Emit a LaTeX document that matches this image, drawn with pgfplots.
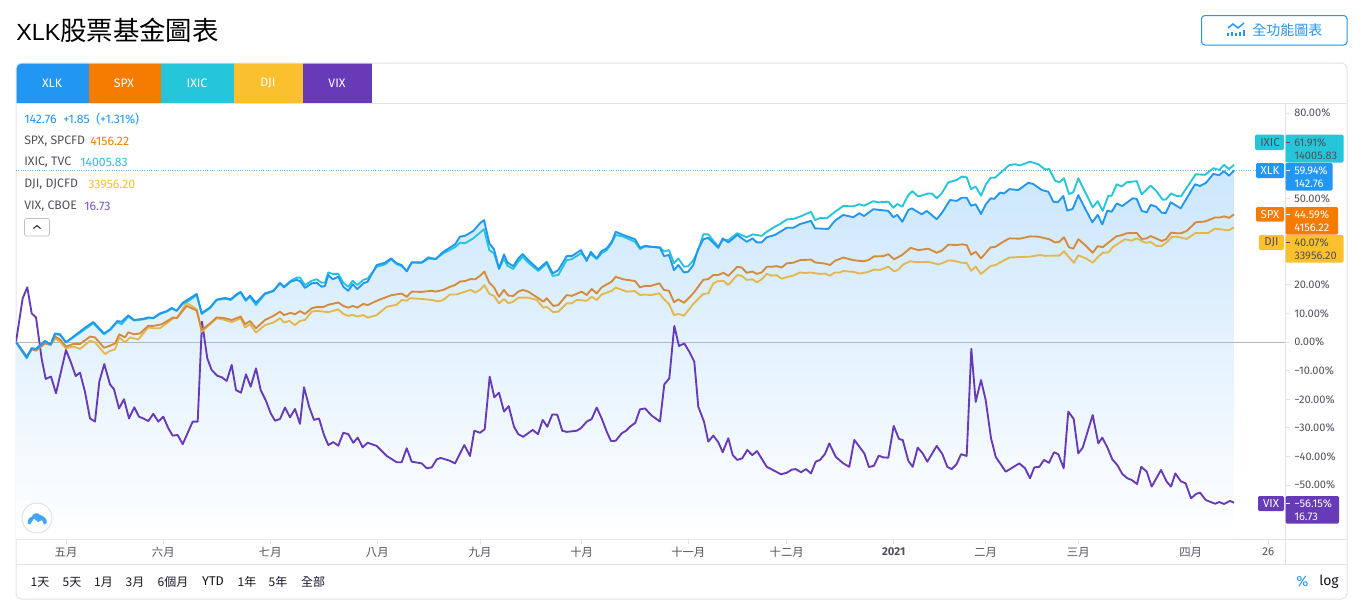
\documentclass[border=0pt]{standalone}
\usepackage{fontspec}
\usepackage{pgfplots}
\usepackage{pgfplotstable}
\pgfplotsset{compat=1.18}
\setmainfont{Fira Sans}
\newfontfamily\lib{Liberation Sans}
\newfontfamily\cjk{Noto Sans CJK TC}

\definecolor{cardline}{HTML}{E0E3EB}
\definecolor{txt}{HTML}{50535E}
\definecolor{dark}{HTML}{131722}
\definecolor{cXLK}{HTML}{2196F3}
\definecolor{cSPX}{HTML}{F57C00}
\definecolor{cIXIC}{HTML}{26C6DA}
\definecolor{cDJI}{HTML}{FBC02D}
\definecolor{cVIX}{HTML}{673AB7}
\definecolor{lSPX}{HTML}{D68A3C}
\definecolor{lDJI}{HTML}{E2B84E}
\definecolor{zero}{HTML}{B2B5C8}

% x = position along the time scale, y = change in percent
\pgfplotstableread[row sep=crcr]{
x y\\
16 0\\ 26.7 -5.3\\ 31.7 -2.2\\ 36 -2.4\\ 45 0.3\\ 50.7 -0.8\\ 55 3.0\\ 60 2.7\\ 66 -0.1\\ 78.3 3.2\\
85 5.0\\ 93.3 7.0\\ 104 3.0\\ 110 4.4\\ 117.3 7.3\\ 121.7 7.1\\ 128.3 9.3\\ 134 7.7\\ 143.3 8.1\\ 148.3 8.6\\
153.3 8.4\\ 160 10.0\\ 166.7 10.8\\ 171.7 11.9\\ 176.7 10.9\\ 182.7 13.7\\ 190 15.3\\ 196.7 16.8\\ 201.7 10.1\\ 210 12.1\\
216.7 14.8\\ 225 15.4\\ 230.7 14.9\\ 236.7 16.7\\ 240.7 17.5\\ 245.7 14.7\\ 250 16.2\\ 256 13.7\\ 265 17.0\\ 273.3 17.9\\
280 20.5\\ 284 19.1\\ 290.7 21.1\\ 296.7 21.7\\ 300 21.3\\ 305 18.9\\ 311.7 20.5\\ 316.7 20.7\\ 321.7 19.3\\ 325 19.6\\
328.3 23.4\\ 332.7 21.9\\ 338.3 22.8\\ 343.3 19.3\\ 348.3 17.9\\ 352.7 20.2\\ 357.3 18.5\\ 363.3 20.5\\ 367.7 21.1\\ 376.7 26.9\\
385 27.7\\ 391 29.2\\ 396.7 27.5\\ 401.7 26.9\\ 406.7 24.7\\ 411.7 27.8\\ 421.7 27.7\\ 428.3 29.2\\ 435.7 29.0\\ 443.3 31.5\\
455 34.1\\ 460 36.8\\ 465 37.1\\ 473.3 38.8\\ 480 41.5\\ 484 42.6\\ 489.3 34.5\\ 494 32.4\\ 499 25.7\\ 504 30.6\\
507.3 27.8\\ 513.3 26.5\\ 518.3 29.2\\ 522.7 30.7\\ 528.3 28.6\\ 538.3 25.4\\ 546.7 28.0\\ 552.7 24.0\\ 558.3 25.1\\ 566.7 30.0\\
571.7 30.0\\ 581 32.1\\ 586.7 28.3\\ 590.7 31.5\\ 596.7 29.2\\ 601.7 31.8\\ 606.7 32.7\\ 611.7 35.0\\ 615.7 38.5\\ 623.3 37.4\\
635 35.9\\ 640 32.9\\ 645 33.6\\ 660 32.9\\ 664 30.0\\ 669 30.4\\ 674 25.1\\ 678.3 26.9\\ 684 24.3\\ 688.3 24.6\\
693.3 26.9\\ 697.7 32.1\\ 703.3 35.9\\ 708.3 36.4\\ 718.3 32.9\\ 722.7 36.2\\ 728.3 34.8\\ 737.3 37.4\\ 746.7 35.0\\ 752.7 36.2\\
756.7 34.8\\ 761.7 34.8\\ 766.7 36.6\\ 775 37.4\\ 786.7 39.9\\ 793.3 39.9\\ 800 41.2\\ 811 42.3\\ 815 39.7\\ 828.3 39.5\\
835 42.4\\ 843.3 44.4\\ 853.3 43.6\\ 859.3 45.0\\ 864 44.0\\ 873.3 46.4\\ 888.3 45.8\\ 893.3 43.6\\ 897.3 44.4\\ 902.3 42.0\\
908.3 46.1\\ 911.7 46.7\\ 921.7 44.6\\ 926.7 45.8\\ 936.7 42.9\\ 941.7 45.0\\ 950 49.6\\ 956.7 49.3\\ 961.7 50.4\\ 966.7 50.4\\
971 47.6\\ 975.7 48.1\\ 981 44.7\\ 986 48.2\\ 990.7 50.2\\ 994.3 50.0\\ 1000 52.2\\ 1004 51.9\\ 1009.3 53.4\\ 1018.3 53.1\\
1028.3 55.6\\ 1033.3 55.2\\ 1041.7 53.1\\ 1048.3 52.5\\ 1053.3 49.0\\ 1057.7 48.8\\ 1063.3 51.0\\ 1067.3 45.9\\ 1072.7 46.5\\ 1078.3 51.3\\
1085 46.7\\ 1092.3 41.8\\ 1097.7 44.4\\ 1102.3 41.1\\ 1107.3 45.9\\ 1111.7 45.5\\ 1116.7 48.4\\ 1122.3 47.5\\ 1132.7 50.2\\ 1136.7 50.0\\
1141.7 45.8\\ 1146.7 45.3\\ 1150.7 47.9\\ 1156 47.3\\ 1161.7 45.2\\ 1165.7 45.0\\ 1170.7 48.8\\ 1180.7 46.7\\ 1195 55.1\\ 1200 54.5\\
1206 55.6\\ 1213.3 58.7\\ 1219.3 58.3\\ 1224 59.7\\ 1229 58.1\\ 1234 59.94\\
}\xlk

\pgfplotstableread[row sep=crcr]{
x y\\
16 0\\ 26.7 -5.7\\ 31.7 -2.2\\ 36 -2.6\\ 45 0.4\\ 50.7 -1.0\\ 55 2.8\\ 60 2.5\\ 66 -0.1\\ 78.3 2.8\\
85 4.5\\ 93.3 6.5\\ 104 2.7\\ 110 4.2\\ 117.3 6.9\\ 121.7 6.2\\ 128.3 8.9\\ 134 7.5\\ 143.3 7.9\\ 148.3 8.3\\
153.3 8.3\\ 160 9.8\\ 166.7 10.6\\ 171.7 11.6\\ 176.7 11.0\\ 182.7 13.3\\ 190 14.7\\ 196.7 16.4\\ 201.7 9.8\\ 210 11.8\\
216.7 14.7\\ 225 15.1\\ 230.7 14.7\\ 236.7 16.4\\ 240.7 17.3\\ 245.7 14.4\\ 250 15.8\\ 256 12.9\\ 265 16.8\\ 273.3 17.7\\
280 20.7\\ 284 19.3\\ 290.7 21.4\\ 296.7 22.5\\ 300 22.5\\ 305 19.9\\ 311.7 21.4\\ 316.7 21.9\\ 321.7 20.7\\ 325 20.7\\
328.3 24.3\\ 332.7 23.8\\ 338.3 23.8\\ 343.3 20.7\\ 348.3 19.3\\ 352.7 21.4\\ 357.3 19.9\\ 363.3 21.7\\ 367.7 22.2\\ 376.7 26.3\\
385 27.1\\ 391 28.9\\ 396.7 27.2\\ 401.7 26.5\\ 406.7 24.8\\ 411.7 27.8\\ 421.7 27.8\\ 428.3 29.6\\ 435.7 29.0\\ 443.3 31.0\\
455 33.1\\ 460 34.7\\ 465 34.5\\ 473.3 36.2\\ 484 39.4\\ 489.3 32.1\\ 494 31.0\\ 499 25.5\\ 504 29.2\\ 507.3 26.7\\
513.3 25.5\\ 518.3 28.1\\ 522.7 29.8\\ 528.3 27.7\\ 538.3 24.8\\ 546.7 27.5\\ 552.7 23.1\\ 558.3 23.4\\ 566.7 28.6\\ 571.7 28.9\\
581 31.0\\ 586.7 28.9\\ 590.7 30.7\\ 596.7 29.0\\ 601.7 31.0\\ 606.7 32.1\\ 611.7 34.5\\ 615.7 37.4\\ 623.3 36.8\\ 635 35.0\\
640 32.5\\ 645 33.3\\ 660 33.1\\ 664 31.6\\ 669 32.1\\ 674 27.5\\ 678.3 29.2\\ 684 26.3\\ 688.3 26.5\\ 693.3 28.6\\
697.7 31.6\\ 703.3 37.6\\ 708.3 37.6\\ 718.3 33.3\\ 722.7 35.6\\ 728.3 35.6\\ 737.3 38.0\\ 746.7 36.6\\ 752.7 37.6\\ 761.7 37.1\\
766.7 38.5\\ 775 40.3\\ 780 41.2\\ 786.7 42.8\\ 793.3 43.0\\ 800 43.8\\ 811 45.5\\ 815 42.6\\ 820.7 43.4\\ 826.7 43.2\\
835 45.5\\ 843.3 47.5\\ 853.3 47.4\\ 859.3 48.1\\ 864 47.6\\ 873.3 49.2\\ 878.3 48.8\\ 888.3 49.0\\ 893.3 46.9\\ 897.3 48.2\\
902.3 47.3\\ 908.3 51.3\\ 912.3 52.7\\ 918.3 50.8\\ 928.3 51.9\\ 932.3 51.8\\ 936.7 50.2\\ 941.7 51.9\\ 948.3 55.8\\ 956.7 56.6\\
961.7 57.8\\ 966.7 57.5\\ 971 53.4\\ 975.7 54.3\\ 981 51.1\\ 986 55.1\\ 990.7 57.4\\ 995 57.4\\ 1001.7 59.5\\ 1009.3 61.8\\
1015 62.1\\ 1020 61.7\\ 1030 63.0\\ 1038.3 62.1\\ 1045 60.3\\ 1049.3 60.4\\ 1055 56.4\\ 1059.3 55.8\\ 1064 57.2\\ 1069 51.7\\
1073.3 52.3\\ 1078.3 57.2\\ 1085 52.5\\ 1092.7 47.0\\ 1097.7 49.2\\ 1102.7 45.8\\ 1108.3 51.1\\ 1111.7 51.1\\ 1116.7 55.1\\ 1121.7 54.3\\
1126.7 55.8\\ 1136.7 56.2\\ 1141.7 51.6\\ 1150.7 54.6\\ 1156 52.9\\ 1162.7 49.7\\ 1166 49.8\\ 1171 51.9\\ 1176.7 51.0\\ 1181 50.9\\
1195.7 58.6\\ 1205 58.4\\ 1213.3 60.7\\ 1219.3 60.1\\ 1224 61.9\\ 1229 60.4\\ 1234 61.91\\
}\ixic

\pgfplotstableread[row sep=crcr]{
x y\\
16 0\\ 26.7 -5.1\\ 31.7 -2.6\\ 36 -3.0\\ 45 -0.5\\ 50.7 -1.0\\ 55 1.9\\ 60 0.9\\ 66 -1.6\\ 73.3 -0.7\\
80 -0.7\\ 90 1.9\\ 95 1.6\\ 104 -2.0\\ 110 -1.3\\ 115 -0.5\\ 119.3 2.7\\ 125 1.6\\ 128.3 3.4\\ 134 2.7\\
140 3.0\\ 148.3 5.7\\ 153.3 5.6\\ 161.7 6.2\\ 173.3 8.6\\ 176.7 8.3\\ 186.7 12.6\\ 196.7 11.0\\ 201.7 4.2\\ 210 6.5\\
216.7 8.6\\ 225 8.3\\ 231.7 7.7\\ 240.7 8.9\\ 245 6.2\\ 250 7.3\\ 256 4.8\\ 265 7.7\\ 273.3 9.1\\ 280 10.6\\
284 9.4\\ 290.7 10.2\\ 295 9.7\\ 300 10.8\\ 305 9.8\\ 311.7 11.8\\ 316.7 12.2\\ 323.3 12.2\\ 328.3 13.0\\ 338.3 13.8\\
343.3 12.6\\ 348.3 12.0\\ 352.7 12.6\\ 357.3 12.0\\ 363.3 13.3\\ 367.7 12.9\\ 376.7 14.4\\ 391.7 16.4\\ 401.7 16.9\\ 406.7 15.8\\
411.7 17.6\\ 421.7 17.5\\ 431.7 17.9\\ 435.7 17.6\\ 443.3 18.2\\ 450 19.3\\ 455 19.9\\ 460 21.1\\ 465 21.3\\ 470.7 22.0\\
475 21.9\\ 480 23.1\\ 484.3 24.6\\ 489.3 20.7\\ 494 19.1\\ 499 15.8\\ 504 18.2\\ 508.3 16.2\\ 513.3 16.1\\ 518.3 17.6\\
522.7 18.2\\ 528.3 17.6\\ 538.3 15.3\\ 543.3 14.1\\ 546.7 15.3\\ 553.3 12.6\\ 558.3 12.9\\ 566.7 16.4\\ 571.7 16.1\\ 581.7 17.6\\
586.7 16.4\\ 591.7 18.5\\ 596.7 17.0\\ 601.7 19.1\\ 611.7 21.1\\ 615.7 22.8\\ 623.3 21.9\\ 635 21.3\\ 640 19.1\\ 645 19.6\\
650.7 19.6\\ 659.3 20.5\\ 664 18.2\\ 669 17.9\\ 674 13.9\\ 678.3 14.9\\ 684 13.7\\ 693.3 17.0\\ 697.7 19.1\\ 703.3 21.7\\
708.3 22.0\\ 713.3 23.4\\ 718.3 23.4\\ 723.3 24.2\\ 728.3 23.1\\ 737.3 26.3\\ 741.7 26.0\\ 746.7 24.2\\ 752.7 24.6\\ 756.7 23.8\\
761.7 24.3\\ 766.7 26.3\\ 771.7 26.3\\ 776.7 26.5\\ 781.7 26.0\\ 786.7 27.5\\ 793.3 27.7\\ 800 28.6\\ 811 28.8\\ 815 27.8\\
825 27.4\\ 830 26.9\\ 835 28.4\\ 843.3 29.5\\ 853.3 28.6\\ 863.3 28.2\\ 868.3 28.6\\ 874 29.9\\ 883.3 30.0\\ 888.3 30.7\\
894 28.9\\ 901.7 30.3\\ 910.7 32.9\\ 918.3 32.1\\ 928.3 32.6\\ 936.7 31.2\\ 941.7 31.9\\ 948.3 34.0\\ 956.7 33.9\\ 961.7 34.1\\
966.7 33.9\\ 971 30.5\\ 975.7 31.5\\ 981 29.2\\ 986.7 31.5\\ 990.7 33.1\\ 995 33.2\\ 1001.7 34.7\\ 1009.3 36.2\\ 1020 36.1\\
1030 36.9\\ 1038.3 36.8\\ 1049.3 35.9\\ 1055 34.8\\ 1059.3 35.0\\ 1064 36.6\\ 1069 33.1\\ 1073.3 32.6\\ 1078.3 35.9\\ 1085 33.9\\
1092.7 31.2\\ 1097.7 33.5\\ 1102.7 33.1\\ 1108.3 34.7\\ 1116.7 37.0\\ 1121.7 37.3\\ 1126.7 38.0\\ 1136.7 38.1\\ 1141.7 36.0\\ 1146.7 36.2\\
1150.7 37.0\\ 1156 36.2\\ 1161.7 35.3\\ 1166 35.9\\ 1171 38.2\\ 1176.7 38.0\\ 1181 38.0\\ 1186.7 38.8\\ 1195.7 41.8\\ 1205 42.1\\
1215 43.5\\ 1220 43.5\\ 1224 43.9\\ 1229 43.4\\ 1234 44.59\\
}\spx

\pgfplotstableread[row sep=crcr]{
x y\\
16 0\\ 26.7 -4.9\\ 31.7 -2.2\\ 36 -3.0\\ 45 -0.1\\ 50.7 -1.0\\ 55 1.3\\ 60 0.1\\ 66 -2.2\\ 73.3 -1.6\\
80 -2.4\\ 90 0.4\\ 95 -0.1\\ 105 -4.2\\ 110 -3.1\\ 115 -2.6\\ 119.3 1.6\\ 125 -0.1\\ 130 1.6\\ 138.3 0.9\\
148.3 5.1\\ 153.3 4.8\\ 160 4.8\\ 173.3 8.3\\ 176.7 8.3\\ 186.7 13.7\\ 196.7 11.4\\ 201.7 3.6\\ 210 6.2\\ 216.7 8.3\\
225 7.7\\ 231.7 6.9\\ 240.7 8.3\\ 245 5.1\\ 250 6.2\\ 256 3.3\\ 265 5.9\\ 273.3 6.8\\ 280 8.3\\ 284 6.8\\
289.3 7.4\\ 295 5.9\\ 300 7.4\\ 305 7.7\\ 311.7 10.6\\ 316.7 10.9\\ 328.3 10.4\\ 338.3 11.4\\ 343.3 9.8\\ 348.3 9.1\\
352.7 9.5\\ 357.3 8.9\\ 363.3 9.4\\ 367.7 8.5\\ 376.7 9.4\\ 386.7 12.3\\ 396.7 13.0\\ 401.7 14.7\\ 406.7 14.4\\ 410 15.3\\
420 15.1\\ 431.7 14.7\\ 438.3 14.2\\ 443.3 14.7\\ 450 16.6\\ 456.7 16.6\\ 465 17.6\\ 470.7 18.2\\ 475 17.3\\ 480 18.2\\
484.3 19.9\\ 489.3 16.8\\ 494 16.1\\ 499 13.5\\ 504 15.0\\ 508.3 13.5\\ 513.3 14.1\\ 518.3 15.5\\ 528.3 15.5\\ 536.7 14.7\\
543.3 12.0\\ 546.7 12.3\\ 553.3 10.4\\ 558.3 10.6\\ 566.7 13.5\\ 571.7 13.5\\ 576.7 14.7\\ 586.7 14.4\\ 591.7 15.8\\ 596.7 14.7\\
601.7 16.6\\ 611.7 17.9\\ 615.7 19.0\\ 626.7 17.6\\ 635 17.8\\ 640 16.4\\ 645 16.6\\ 650.7 16.4\\ 659.3 17.0\\ 664 14.9\\
669 13.3\\ 674 9.4\\ 678.3 9.8\\ 684 9.2\\ 693.3 13.3\\ 703.3 16.8\\ 708.3 17.0\\ 713.3 20.5\\ 718.3 21.3\\ 723.3 21.4\\
728.3 19.9\\ 737.3 23.4\\ 741.7 23.1\\ 746.7 21.7\\ 752.7 21.9\\ 756.7 20.8\\ 761.7 21.9\\ 766.7 23.8\\ 771.7 23.2\\ 776.7 23.3\\
781.7 22.1\\ 786.7 22.7\\ 793.3 23.2\\ 800 24.3\\ 805 24.1\\ 810 24.3\\ 820 23.8\\ 825 23.9\\ 830 23.2\\ 835 24.3\\
840 24.3\\ 843.3 24.8\\ 853.3 24.5\\ 860 23.9\\ 868.3 24.5\\ 874 25.3\\ 880 25.2\\ 888.3 26.3\\ 894 24.7\\ 898.3 25.3\\
903.3 27.1\\ 910 28.2\\ 916.7 27.9\\ 928.3 28.0\\ 938.3 27.1\\ 943.3 27.7\\ 948.3 28.5\\ 953.3 28.4\\ 961.7 27.7\\ 966.7 27.6\\
971 24.9\\ 975.7 26.3\\ 981 23.8\\ 986.7 25.4\\ 990.7 26.6\\ 995 26.8\\ 1001.7 28.1\\ 1009.3 29.5\\ 1020 29.7\\ 1030 29.8\\
1040 30.4\\ 1045 30.1\\ 1059.3 30.2\\ 1064 31.7\\ 1069 29.6\\ 1074 27.7\\ 1078.3 30.3\\ 1086.7 29.1\\ 1092.7 27.7\\ 1097.7 29.6\\
1102.7 31.2\\ 1108.3 31.3\\ 1113.3 33.3\\ 1125 35.9\\ 1131.7 35.4\\ 1136.7 36.2\\ 1145 34.7\\ 1150.7 34.9\\ 1156 33.6\\ 1161.7 33.6\\
1166.7 34.8\\ 1171.7 36.7\\ 1176.7 36.8\\ 1186.7 36.0\\ 1195.7 38.1\\ 1208.3 38.1\\ 1215 39.6\\ 1220 39.4\\ 1228.3 39.0\\ 1234 40.07\\
}\dji

\pgfplotstableread[row sep=crcr]{
x y\\
16 0\\ 22.7 15.3\\ 27.3 19.1\\ 31.7 10.0\\ 36 8.6\\ 41.7 -5.9\\ 45.7 -12.9\\ 51 -12.1\\ 56 -17.9\\ 66 -2.8\\
70.7 -6.9\\ 75.7 -11.9\\ 80 -10.7\\ 85 -17.4\\ 90 -26.7\\ 95 -27.8\\ 99.3 -13.9\\ 104.3 -7.7\\ 110 -14.8\\ 114 -16.5\\
119 -23.2\\ 124 -20.0\\ 129 -26.7\\ 134.3 -22.8\\ 139 -26.1\\ 143.3 -26.7\\ 148.3 -27.6\\ 153.3 -25.1\\ 158.3 -27.8\\ 163.3 -26.1\\
168.3 -30.1\\ 172.7 -32.7\\ 177.7 -32.5\\ 182.7 -35.7\\ 192.7 -27.8\\ 197.7 -27.8\\ 202 7.1\\ 207.3 -5.7\\ 211.7 -9.8\\ 217.3 -11.8\\
221.7 -12.3\\ 226.7 -13.6\\ 231.7 -8.0\\ 236 -16.8\\ 241 -17.7\\ 246 -11.3\\ 250.7 -15.6\\ 256 -9.2\\ 260.7 -16.8\\ 265.7 -20.3\\
270.7 -24.9\\ 275 -27.5\\ 280 -26.9\\ 285 -22.9\\ 290 -26.3\\ 295 -23.4\\ 300 -28.6\\ 304 -15.8\\ 309.3 -22.8\\ 314 -27.2\\
319 -26.7\\ 324 -32.5\\ 328.3 -36.0\\ 333.3 -35.0\\ 338.3 -36.2\\ 343.3 -31.7\\ 348.3 -32.2\\ 353.3 -35.2\\ 357.7 -33.4\\ 362.7 -36.8\\
367.7 -35.2\\ 376.7 -36.3\\ 386.7 -39.8\\ 396.7 -42.0\\ 401.7 -42.0\\ 406.7 -37.1\\ 411.7 -41.8\\ 421.7 -42.4\\ 426.7 -44.1\\ 431.7 -43.8\\
436.7 -41.0\\ 440.7 -40.5\\ 450 -41.5\\ 455 -42.4\\ 464.3 -36.0\\ 470 -39.8\\ 474.3 -31.0\\ 480 -31.7\\ 484.7 -30.5\\ 489.7 -12.1\\
494.3 -19.3\\ 499 -17.7\\ 504 -24.3\\ 508.7 -22.4\\ 514 -29.6\\ 518.3 -32.2\\ 523.3 -33.1\\ 532.7 -30.7\\ 538 -32.2\\ 542.7 -27.2\\
547.3 -29.6\\ 552.3 -25.3\\ 557.3 -25.4\\ 562.3 -31.0\\ 566.7 -31.4\\ 576.7 -31.0\\ 581 -30.1\\ 586.7 -27.8\\ 591.7 -26.9\\ 596.7 -22.9\\
601.7 -26.7\\ 606.7 -31.3\\ 611 -34.6\\ 615.7 -34.5\\ 621.7 -31.9\\ 626 -31.0\\ 630 -29.6\\ 635.3 -28.2\\ 640 -23.5\\ 645 -23.2\\
651.7 -25.7\\ 660 -27.8\\ 664.3 -14.8\\ 669.3 -12.7\\ 674.3 5.6\\ 679 -1.4\\ 684.3 -0.5\\ 689.3 -3.4\\ 694.3 -6.9\\ 698.3 -22.6\\
704 -27.8\\ 708.3 -34.8\\ 713.3 -32.7\\ 718.3 -35.0\\ 722.7 -38.5\\ 728.3 -33.6\\ 732.7 -39.5\\ 737.3 -41.2\\ 742.3 -40.6\\ 747.3 -37.7\\
752.3 -39.5\\ 757 -38.1\\ 766.7 -43.6\\ 781 -46.2\\ 786.7 -45.7\\ 791.7 -44.6\\ 795.7 -44.4\\ 801 -45.5\\ 806 -44.4\\ 811 -45.9\\
815.7 -41.8\\ 820 -41.2\\ 825 -39.1\\ 829.3 -35.4\\ 835.7 -40.1\\ 843.3 -42.4\\ 849.3 -43.6\\ 854.3 -34.2\\ 864.3 -38.9\\ 869 -43.7\\
874 -43.2\\ 878.7 -39.7\\ 883.3 -40.3\\ 888.3 -40.4\\ 893.7 -29.3\\ 899 -33.9\\ 902.7 -34.2\\ 908.3 -41.5\\ 912.7 -43.6\\ 917.7 -36.9\\
922.7 -38.9\\ 927.3 -41.8\\ 936.7 -36.3\\ 942.3 -39.1\\ 947.3 -43.6\\ 951.7 -44.4\\ 956.7 -42.6\\ 961 -39.2\\ 966.7 -39.8\\ 971.3 -2.4\\
975.7 -20.9\\ 981 -13.3\\ 985.7 -20.3\\ 991 -33.6\\ 995.7 -40.1\\ 1005.7 -45.3\\ 1019.3 -42.4\\ 1025 -44.1\\ 1030 -47.6\\ 1034.3 -43.8\\
1039.3 -43.6\\ 1044 -41.2\\ 1049 -42.2\\ 1054 -38.5\\ 1058.3 -39.2\\ 1063.7 -44.1\\ 1068.3 -24.3\\ 1073.7 -26.9\\ 1078.3 -38.9\\ 1082.7 -36.9\\
1092.7 -25.5\\ 1098.3 -35.4\\ 1102.3 -33.4\\ 1107.7 -37.1\\ 1112.3 -41.0\\ 1117.3 -43.0\\ 1122.3 -46.1\\ 1127.3 -47.6\\ 1131.7 -48.2\\ 1137 -49.6\\
1141.3 -43.6\\ 1146.7 -45.3\\ 1151.7 -50.5\\ 1161 -44.7\\ 1166.7 -48.8\\ 1171 -50.5\\ 1175.3 -45.9\\ 1180.7 -48.6\\ 1185.7 -49.4\\ 1191 -54.6\\
1196 -53.1\\ 1200 -52.6\\ 1205.7 -55.2\\ 1215 -56.5\\ 1219.3 -55.9\\ 1224 -56.6\\ 1230 -55.5\\ 1234 -56.15\\
}\vix

\begin{document}
\begin{tikzpicture}[
  px/.style={x=0.75pt,y=-0.75pt},
  t/.style={anchor=west,inner sep=0pt,font=\fontsize{9.2}{10}\selectfont},
  tag/.style={anchor=west,inner sep=0pt,font=\fontsize{8.3}{9}\selectfont},
  ct/.style={anchor=center,inner sep=0pt,font=\fontsize{8.6}{9}\selectfont},
  hz/.style={anchor=center,inner sep=0pt,font=\cjk\fontsize{9}{11}\selectfont,text=dark},
]
\path[use as bounding box,fill=white] (0,0) rectangle (1023pt,-459pt);

\begin{scope}[px]
  \node[anchor=west,inner sep=0pt] at (16,30) {{\lib\fontsize{17.5}{20}\selectfont XLK}{\cjk\fontsize{19.8}{22}\selectfont 股票基金圖表}};
  \draw[cXLK,line width=0.75pt,rounded corners=2.5pt] (1201.5,15.5) rectangle (1347,45);
  \draw[cXLK,line width=1.1pt] (1228,28) -- (1233,24) -- (1238,28) -- (1244,23);
  \foreach \bx/\bh in {1228/3,1232/4,1236/3,1240/4,1244/6}
    \fill[cXLK] (\bx-0.9,35.5) rectangle (\bx+0.9,35.5-\bh);
  \node[anchor=west,inner sep=0pt,text=cXLK,font=\cjk\fontsize{10.5}{12}\selectfont] at (1252,30) {全功能圖表};

  % card, tabs
  \begin{scope}
    \clip[rounded corners=4pt] (16,63) rectangle (1347,599);
    \fill[cXLK] (16,63) rectangle (89,103);
    \fill[cSPX] (89,63) rectangle (161,103);
    \fill[cIXIC] (161,63) rectangle (234,103);
    \fill[cDJI] (234,63) rectangle (303,103);
    \fill[cVIX] (303,63) rectangle (372,103);
  \end{scope}
  \foreach \tx/\tn in {52/XLK,124/SPX,197/IXIC,268/DJI,337/VIX}
    \node[ct,text=white,font=\fontsize{9.2}{11}\selectfont] at (\tx,83.5) {\tn};
  \draw[cardline,line width=0.75pt,rounded corners=4pt] (16,63) rectangle (1347,599);
  \draw[cardline,line width=0.75pt] (16,103.5) -- (1347,103.5);
  \draw[cardline,line width=0.75pt] (16,539.5) -- (1347,539.5);
  \draw[cardline,line width=0.75pt] (16,564.5) -- (1347,564.5);
  \draw[cardline,line width=0.75pt] (1285.5,104) -- (1285.5,564);
\end{scope}

\begin{axis}[
  at={(12pt,-404.25pt)},anchor=south west,
  scale only axis,width=951.75pt,height=326.25pt,
  xmin=16,xmax=1285,ymin=-68.82,ymax=83.14,
  axis line style={draw=none},
  tick align=outside,major tick length=3.75pt,
  tick style={cardline,line width=0.75pt},
  xtick pos=bottom,ytick pos=right,
  xtick={66,163.3,270.3,377.3,480,581.7,688.3,786.7,893.7,985.7,1078.3,1190.7,1268.3},
  xticklabels={五月,六月,七月,八月,九月,十月,十一月,十二月,{\bfseries\rmfamily 2021},二月,三月,四月,{\rmfamily 26}},
  x tick label style={font=\cjk\fontsize{8.5}{11}\selectfont,text=txt,inner sep=0pt,yshift=-2.3pt},
  ytick={-50,-40,-30,-20,-10,0,10,20,30,40,50,60,70,80},
  yticklabels={−50.00\%,−40.00\%,−30.00\%,−20.00\%,−10.00\%,0.00\%,10.00\%,20.00\%,30.00\%,{},50.00\%,{},{},80.00\%},
  yticklabel pos=right,
  y tick label style={font=\fontsize{8.3}{9}\selectfont,text=txt,anchor=west,inner sep=0pt,xshift=3pt},
  clip=true,
]
\addplot[draw=none,top color=cXLK!23!white,bottom color=white,forget plot] table[x=x,y=y] {\xlk}
  -- (axis cs:1234,-68.82) -- (axis cs:16,-68.82) -- cycle;
\addplot[zero,line width=0.75pt,forget plot] coordinates {(16,0) (1285,0)};
\addplot[cXLK!70!white,line width=0.75pt,densely dotted,forget plot] coordinates {(16,59.94) (1258,59.94)};
\addplot[cVIX,line width=1.4pt,line join=round] table[x=x,y=y] {\vix};
\addplot[lDJI,line width=1.4pt,line join=round] table[x=x,y=y] {\dji};
\addplot[lSPX,line width=1.4pt,line join=round] table[x=x,y=y] {\spx};
\addplot[cIXIC,line width=1.4pt,line join=round] table[x=x,y=y] {\ixic};
\addplot[cXLK,line width=1.4pt,line join=round] table[x=x,y=y] {\xlk};
\end{axis}

\begin{scope}[px]
  % series readout, upper left
  \node[t,text=cXLK] at (24,119) {142.76};
  \node[t,text=cXLK] at (63,119) {+1.85};
  \node[t,text=cXLK] at (96,119) {(+1.31\%)};
  \node[t,text=txt] at (24,141) {SPX, SPCFD};
  \node[t,text=cSPX] at (90,141) {4156.22};
  \node[t,text=txt] at (24,162) {IXIC, TVC};
  \node[t,text=cIXIC] at (80,162) {14005.83};
  \node[t,text=txt] at (24,184) {DJI, DJCFD};
  \node[t,text=cDJI] at (88,184) {33956.20};
  \node[t,text=txt] at (24,206) {VIX, CBOE};
  \node[t,text=cVIX!85!white] at (84,206) {16.73};
  \draw[cardline!85!black,line width=0.5pt,rounded corners=1.5pt,fill=white] (24.5,218.5) rectangle (49.5,236);
  \draw[dark,line width=0.7pt] (33.5,228.5) -- (37,225.5) -- (40.5,228.5);

  % logo
  \draw[cardline,line width=0.75pt,fill=white] (37,518) circle (15);
  \fill[cXLK!85!white] (28,523.5) .. controls (27,519) and (30,517) .. (32,516.5) .. controls (33,513) and (38,512) .. (40,515)
    .. controls (42,515) and (46,518) .. (46.5,520) .. controls (47.5,523) and (46,524.5) .. (44,524.5)
    -- (42,520) -- (38,522) -- (34,518.5) -- (30,524.5) -- cycle;

  % price tags
  \fill[cIXIC,rounded corners=1pt] (1255,134.5) rectangle (1284,150);
  \fill[cIXIC,rounded corners=1pt] (1285.5,134.5) rectangle (1343.5,162.5);
  \node[ct,text=dark!75!white] at (1270,142.5) {IXIC};
  \node[tag,text=dark!75!white] at (1294,142.5) {61.91\%};
  \node[tag,text=dark!75!white] at (1294,155.5) {14005.83};
  \draw[dark!75!white,line width=0.75pt] (1286,142.5) -- (1290,142.5);

  \fill[cXLK,rounded corners=1pt] (1256,163) rectangle (1284,178);
  \fill[cXLK,rounded corners=1pt] (1285.5,163) rectangle (1332.5,190.5);
  \node[ct,text=white] at (1270,170.5) {XLK};
  \node[tag,text=white] at (1294,170.5) {59.94\%};
  \node[tag,text=white] at (1294,183.5) {142.76};
  \draw[white,line width=0.75pt] (1286,170.5) -- (1290,170.5);

  \fill[cSPX,rounded corners=1pt] (1256,207) rectangle (1284,221.5);
  \fill[cSPX,rounded corners=1pt] (1285.5,207) rectangle (1338,234.5);
  \node[ct,text=white] at (1270,214.5) {SPX};
  \node[tag,text=white] at (1294,214.5) {44.59\%};
  \node[tag,text=white] at (1294,227.5) {4156.22};
  \draw[white,line width=0.75pt] (1286,214.5) -- (1290,214.5);

  \fill[cDJI,rounded corners=1pt] (1259,235) rectangle (1284,250);
  \fill[cDJI,rounded corners=1pt] (1285.5,235) rectangle (1343.5,262.5);
  \node[ct,text=dark!75!white] at (1271.5,242.5) {DJI};
  \node[tag,text=dark!75!white] at (1294,242.5) {40.07\%};
  \node[tag,text=dark!75!white] at (1294,255.5) {33956.20};
  \draw[dark!75!white,line width=0.75pt] (1286,242.5) -- (1290,242.5);

  \fill[cVIX,rounded corners=1pt] (1258,496) rectangle (1284,511);
  \fill[cVIX,rounded corners=1pt] (1285.5,496) rectangle (1339,523.5);
  \node[ct,text=white] at (1271,503.5) {VIX};
  \node[tag,text=white] at (1294,503.5) {−56.15\%};
  \node[tag,text=white] at (1294,516.5) {16.73};
  \draw[white,line width=0.75pt] (1286,503.5) -- (1290,503.5);

  % range bar
  \foreach \rx/\rn in {40/1天,72/5天,103.5/1月,135/3月,173/6個月,247/1年,278/5年,313/全部}
    \node[hz] at (\rx,582) {\rn};
  \node[anchor=center,inner sep=0pt,text=dark,font=\fontsize{9.5}{11}\selectfont] at (213,581.5) {YTD};
  \node[anchor=center,inner sep=0pt,text=cXLK,font=\fontsize{11}{12}\selectfont] at (1302.5,582) {\%};
  \node[anchor=center,inner sep=0pt,text=dark,font=\fontsize{10.5}{12}\selectfont] at (1329,582) {log};
\end{scope}
\end{tikzpicture}
\end{document}
